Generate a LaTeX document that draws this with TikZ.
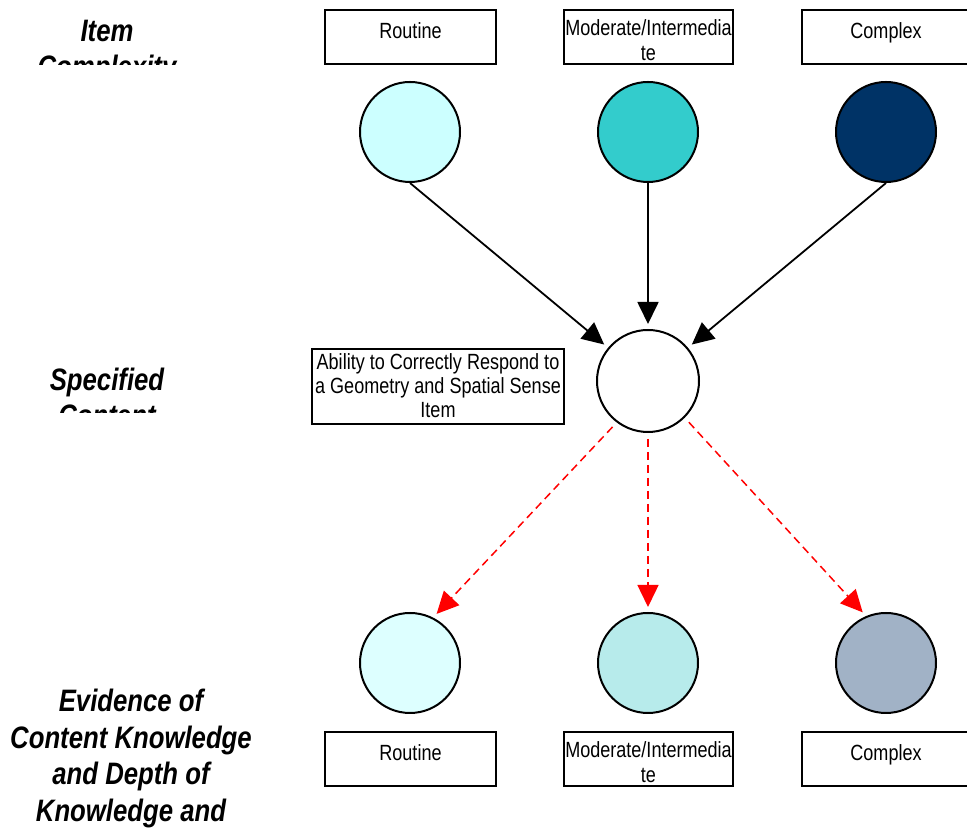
\documentclass[tikz,border=0pt]{standalone}
\usepackage{fontspec}
\setmainfont{Liberation Sans}
\newfontfamily\boxfont[FakeStretch=0.82]{Liberation Sans}
\newfontfamily\headfont[FakeStretch=0.83]{Liberation Sans}
\usetikzlibrary{arrows.meta}
\definecolor{rtfill}{RGB}{204,255,255}
\definecolor{mtfill}{RGB}{51,204,204}
\definecolor{ctfill}{RGB}{0,51,102}
\definecolor{rbfill}{RGB}{221,255,255}
\definecolor{mbfill}{RGB}{183,235,235}
\definecolor{cbfill}{RGB}{161,178,198}

\begin{document}
\begin{tikzpicture}[x=1pt,y=1pt,>={Triangle[length=22pt,width=21pt]},node distance=238pt]
  \tikzstyle{every node}=[inner sep=0pt]
  \tikzstyle{level}=[circle,draw=black,line width=2pt,minimum size=100pt]
  \tikzstyle{tag}=[rectangle,draw=black,line width=2pt,minimum height=54pt,align=center,
                   font=\boxfont\fontsize{22}{25}\selectfont,text height=16pt,text depth=13pt]
  \tikzstyle{twoline}=[text height=48pt,text depth=0pt]
  \tikzstyle{head}=[font=\headfont\bfseries\itshape\fontsize{31}{36}\selectfont,align=center,anchor=base]
  \tikzstyle{solid arrow}=[->,line width=1.8pt,shorten >=5pt]
  \tikzstyle{dash arrow}=[->,red,line width=1.5pt,dash pattern=on 8pt off 5pt,shorten <=6pt,shorten >=5pt]

  \useasboundingbox (0,0) rectangle (967,829);
  \clip (0,0) rectangle (967,829);

  % row labels (anchored at the last line)
  \begin{scope}
    \clip (0,764) rectangle (300,829);
    \node[head] (itemlbl) at (107,751) {Item\\Complexity};
  \end{scope}
  \begin{scope}
    \clip (0,416) rectangle (300,470);
    \node[head] (speclbl) at (107,402) {Specified\\Content};
  \end{scope}
  \node[head,font=\headfont\bfseries\itshape\fontsize{31}{36.5}\selectfont] (evidlbl) at (131,7.5)
    {Evidence of\\Content Knowledge\\and Depth of\\Knowledge and};

  % levels
  \node[tag,minimum width=171pt] (rtag) at (410.5,792) {Routine};
  \node[tag,twoline,minimum width=169pt] (mtag) at (648.5,792) {Moderate/Intermedia\\te};
  \node[tag,minimum width=168pt] (ctag) at (886,792) {Complex};

  \node[level,fill=rtfill] (rt) at (410,697) {};
  \node[level,fill=mtfill,right of=rt] (mt) {};
  \node[level,fill=ctfill,right of=mt] (ct) {};

  \node[level,fill=white,minimum size=102pt] (spec) at (648,448) {};
  \node[tag,minimum width=252pt,minimum height=75pt,text height=63pt,text depth=0pt,
        font=\boxfont\fontsize{22}{24}\selectfont]
    (spectag) at (438,442.5) {Ability to Correctly Respond to\\a Geometry and Spatial Sense\\Item};

  \node[level,fill=rbfill] (rb) at (410,166) {};
  \node[level,fill=mbfill,right of=rb] (mb) {};
  \node[level,fill=cbfill,right of=mb] (cb) {};

  \node[tag,minimum width=171pt] (rbtag) at (410.5,70) {Routine};
  \node[tag,twoline,minimum width=169pt] (mbtag) at (648.5,70) {Moderate/Intermedia\\te};
  \node[tag,minimum width=168pt] (cbtag) at (886,70) {Complex};

  % connectors
  \draw[solid arrow] (rt.south) -- (spec);
  \draw[solid arrow] (mt) -- (spec);
  \draw[solid arrow] (ct.south) -- (spec);
  \draw[dash arrow] (spec.233) -- (rb.63);
  \draw[dash arrow] (spec) -- (mb);
  \draw[dash arrow] (spec.315) -- (cb.113);
\end{tikzpicture}
\end{document}
